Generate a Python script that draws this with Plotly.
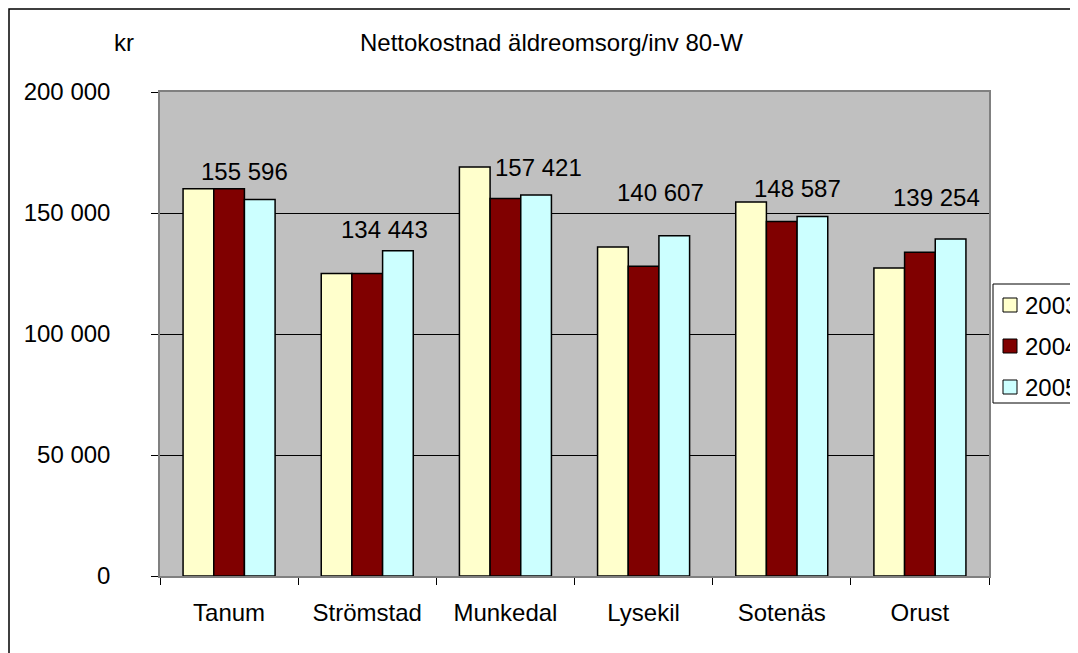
import plotly.graph_objects as go

categories = ["Tanum", "Strömstad", "Munkedal", "Lysekil", "Sotenäs", "Orust"]
years = ["2003", "2004", "2005"]
v2003 = [160000, 125000, 169000, 136000, 154500, 127300]
v2004 = [160000, 125000, 156000, 128000, 146500, 133800]
v2005 = [155596, 134443, 157421, 140607, 148587, 139254]
y_ticks = [0, 50000, 100000, 150000, 200000]

colors = ["#FFFFCC", "#800000", "#CCFFFF"]
FONT = "Liberation Sans, Arial, sans-serif"
FS = 24

# page body has an 8px margin; plot area in reference: x 160-989, y 92-576
PAGE = 8
PL, PR, PT, PB = 160, 989, 92, 576
PW, PH = PR - PL, PB - PT


def px(x):
    return (x - PL) / PW


def py(y):
    return (PB - y) / PH


def fmt(v):
    return f"{v:,}".replace(",", " ")


fig = go.Figure()
for name, vals, col in zip(years, [v2003, v2004, v2005], colors):
    fig.add_trace(go.Bar(
        x=categories, y=vals, name=name, showlegend=False,
        marker=dict(color=col, line=dict(color="#000000", width=1.5)),
    ))

bargap = 0.334
bar_off = (1 - bargap) / 3
# manual label nudges (pixels), as placed in the original
label_dx = [-15, -13, 2, -14, -15, -14]
label_dy = [28, 21, 28, 43, 28, 42]
annotations = []
for i, v in enumerate(v2005):
    annotations.append(dict(
        x=i + bar_off, y=v, xref="x", yref="y", text=fmt(v), showarrow=False,
        xanchor="center", yanchor="middle", xshift=label_dx[i], yshift=label_dy[i],
        font=dict(family=FONT, size=FS, color="#000000"),
    ))
annotations.append(dict(
    x=px(551), y=py(42), xref="paper", yref="paper",
    text="Nettokostnad äldreomsorg/inv 80-W", showarrow=False,
    xanchor="center", yanchor="middle", font=dict(family=FONT, size=FS, color="#000000"),
))
annotations.append(dict(
    x=px(124), y=py(43), xref="paper", yref="paper",
    text="kr", showarrow=False,
    xanchor="center", yanchor="middle", font=dict(family=FONT, size=FS, color="#000000"),
))

# chart border (cropped at right and bottom, as in the original)
shapes = [dict(
    type="rect", xref="paper", yref="paper",
    x0=px(PAGE + 1), x1=1.3, y0=-0.5, y1=py(PAGE + 1),
    line=dict(color="#000000", width=1.5), fillcolor="rgba(0,0,0,0)", layer="below",
)]

# legend box (cropped at the right edge, as in the original)
LEG_L, LEG_T, LEG_B = 993, 284, 403
shapes.append(dict(
    type="rect", xref="paper", yref="paper",
    x0=px(LEG_L), x1=1.3, y0=py(LEG_B), y1=py(LEG_T),
    line=dict(color="#000000", width=1), fillcolor="#FFFFFF", layer="above",
))
row_y = [305, 346, 387]
for name, col, ry in zip(years, colors, row_y):
    shapes.append(dict(
        type="rect", xref="paper", yref="paper",
        x0=px(1003), x1=px(1017), y0=py(ry + 7), y1=py(ry - 7),
        line=dict(color="#000000", width=1), fillcolor=col, layer="above",
    ))
    annotations.append(dict(
        x=px(1023), y=py(ry), xref="paper", yref="paper", text=name,
        showarrow=False, xanchor="left", yanchor="middle",
        font=dict(family=FONT, size=FS, color="#000000"),
    ))

fig.update_layout(
    width=1078, height=653,
    margin=dict(l=PL - PAGE, r=1078 - (PR - PAGE), t=PT - PAGE, b=653 - (PB - PAGE),
                autoexpand=False),
    paper_bgcolor="#FFFFFF", plot_bgcolor="#C0C0C0",
    barmode="group", bargap=bargap, bargroupgap=0,
    font=dict(family=FONT, size=FS, color="#000000"),
    showlegend=False,
    annotations=annotations,
    shapes=shapes,
)
fig.update_xaxes(
    type="category", showgrid=False, ticks="outside", tickson="boundaries",
    ticklen=7, tickcolor="#000000", showline=True, linecolor="#808080", linewidth=1.5,
    mirror=True, ticklabelstandoff=14, tickfont=dict(family=FONT, size=FS),
)
fig.update_yaxes(
    range=[0, 200000], tickvals=y_ticks, ticktext=[fmt(t) for t in y_ticks],
    showgrid=True, gridcolor="#000000", gridwidth=1, zeroline=False,
    ticks="outside", ticklen=7, tickcolor="#000000",
    showline=True, linecolor="#808080", linewidth=1.5, mirror=True,
    ticklabelstandoff=36, tickfont=dict(family=FONT, size=FS),
)
fig.write_html("out.html")
